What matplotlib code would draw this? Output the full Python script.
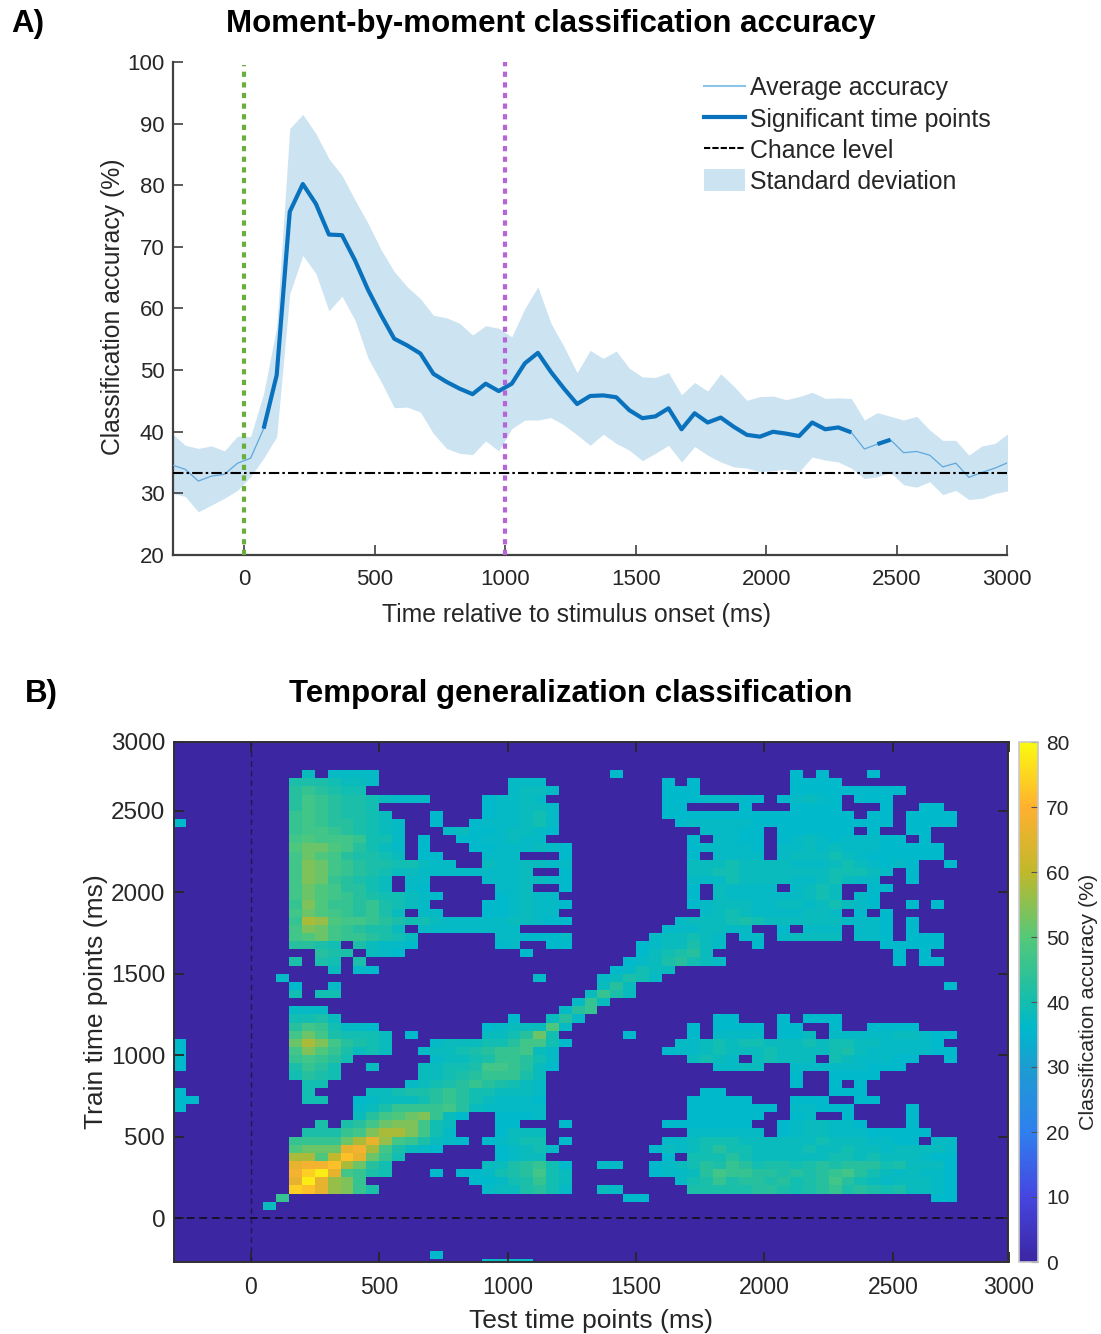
import numpy as np
import matplotlib
matplotlib.use("Agg")
import matplotlib.pyplot as plt
from matplotlib.colors import LinearSegmentedColormap
from matplotlib.lines import Line2D
from matplotlib.patches import Patch

plt.rcParams['font.family'] = ['Liberation Sans', 'DejaVu Sans']

W, H = 1101, 1334
DARK = '#262626'

# panel A, one value per 50 ms
times = np.arange(-275, 2926, 50)
acc_mean = [34.6, 33.9, 32.0, 32.8, 33.1, 34.9, 35.7, 40.5, 49.2, 75.7, 80.2, 77.0, 72.0, 71.9, 67.8, 63.0,
            58.9, 55.1, 54.0, 52.7, 49.4, 48.1, 47.0, 46.1, 47.8, 46.6, 47.8, 51.1, 52.8, 49.7, 47.0, 44.5,
            45.8, 45.9, 45.6, 43.5, 42.2, 42.5, 43.8, 40.4, 43.0, 41.5, 42.3, 40.8, 39.5, 39.2, 40.0, 39.7,
            39.3, 41.5, 40.4, 40.7, 39.9, 37.2, 38.0, 38.7, 36.6, 36.8, 36.2, 34.3, 34.9, 32.6, 33.4, 34.1, 35.0]
acc_upper = [39.7, 37.8, 37.3, 37.7, 36.9, 39.3, 39.2, 46.2, 57.0, 89.2, 91.5, 88.4, 84.3, 81.6, 77.6, 73.8,
             69.5, 66.0, 63.5, 61.6, 58.9, 58.5, 57.6, 55.7, 57.2, 56.8, 55.4, 60.0, 63.5, 57.6, 53.8, 49.6,
             53.2, 51.9, 53.1, 50.3, 48.9, 48.8, 49.6, 46.0, 48.0, 46.6, 49.4, 47.4, 45.1, 45.7, 45.8, 45.2,
             45.7, 46.4, 45.4, 45.5, 45.4, 41.9, 43.1, 42.5, 41.9, 42.5, 40.3, 38.6, 38.6, 36.2, 37.7, 38.1, 39.7]
acc_lower = [30.0, 29.5, 27.0, 28.1, 29.2, 30.5, 32.7, 35.7, 39.2, 62.4, 68.6, 65.7, 59.6, 62.0, 58.1, 51.9,
             48.1, 43.9, 44.0, 43.2, 39.7, 37.3, 36.5, 36.3, 38.5, 36.9, 40.5, 41.9, 41.9, 42.3, 41.1, 39.5,
             37.8, 39.6, 38.1, 37.0, 35.3, 36.5, 37.8, 35.1, 37.6, 36.2, 35.1, 34.3, 34.1, 33.5, 33.7, 33.9,
             33.5, 35.9, 35.4, 35.1, 34.1, 32.4, 32.7, 33.4, 31.4, 31.0, 31.9, 29.8, 30.5, 29.0, 29.2, 30.0, 30.4]
chance = 33.33
sig_spans = [(7, 53), (54, 56)]

# panel B, letters index level_values, {row from top: [(first column, cells), ...]}
level_codes = 'abcdefghijklmnopqrs'
level_values = [36, 37, 38, 39.5, 41, 43, 45, 47, 49, 52, 54, 56, 58, 60, 66, 68, 72, 74, 78]
heat_rows = {
    4: [(10, 'c'), (12, 'bbbb'), (34, 'a'), (48, 'a'), (50, 'a'), (54, 'a')],
    5: [(9, 'eeedccb'), (26, 'bbb'), (38, 'a'), (40, 'a'), (48, 'aaaa')],
    6: [(9, 'fgfedd'), (26, 'bccb'), (38, 'aaa'), (48, 'aaaaaaaaa')],
    7: [(9, 'fhgfeedcbbb'), (24, 'abbcb'), (38, 'aaabbbaa'), (47, 'abcba'), (53, 'aaa')],
    8: [(9, 'fhgfeed'), (24, 'abbccb'), (38, 'aa'), (44, 'a'), (48, 'aaaa'), (55, 'a'), (58, 'aa')],
    9: [(9, 'ghgfeedc'), (20, 'a'), (24, 'abbcdb'), (38, 'aaaaaaaaaaaaaaa'), (54, 'aa'), (57, 'aaaa')],
    10: [(0, 'a'), (9, 'ghgffedcb'), (20, 'a'), (23, 'abbbcdb'), (39, 'abbbbbaaaaaaaaaaa'), (57, 'aaaa')],
    11: [(9, 'ghhgfedcb'), (21, 'bcaabccba'), (41, 'bbbaa'), (47, 'aaaaaa'), (54, 'a'), (57, 'aa')],
    12: [(9, 'hihhhgddb'), (19, 'a'), (22, 'aabbcbb'), (40, 'a'), (42, 'bbaa'), (47, 'abcbabbbaa'), (58, 'a')],
    13: [(9, 'ijjihfdcb'), (19, 'a'), (23, 'aabbbcba'), (40, 'abbbba'), (47, 'bbcbcbbbaaaaa')],
    14: [(9, 'hjihfeedc'), (19, 'aa'), (24, 'bbb'), (30, 'a'), (40, 'a'), (42, 'bbbb'), (47, 'bcccdcbaaaaaa')],
    15: [(9, 'hkjhgfeeddcbb'), (24, 'cbbccbb'), (40, 'cccdccccbbbcdcbaba'), (60, 'a')],
    16: [(9, 'hkjhgfedccbbbbbbbbc'), (30, 'a'), (40, 'ccddcccccccdddcb'), (57, 'a')],
    17: [(9, 'hkjgfedc'), (18, 'bb'), (24, 'bbbccba'), (40, 'bbbdccccbbcdcbb'), (57, 'a')],
    18: [(9, 'hjihffdc'), (18, 'ba'), (25, 'bbc'), (30, 'a'), (40, 'a'), (42, 'cbbbb'), (48, 'bcdc'), (54, 'aa')],
    19: [(9, 'hjihgfeddcba'), (25, 'abcbb'), (40, 'a'), (42, 'cbbbbbbcdc'), (53, 'ba')],
    20: [(9, 'gkiggfgedcb'), (24, 'aabcbba'), (40, 'abcccbbccbcdcba'), (57, 'a'), (59, 'a')],
    21: [(9, 'hjihgfgec'), (19, 'bb'), (24, 'aabcbb'), (41, 'bcdcbbbbccb'), (53, 'a'), (55, 'a')],
    22: [(9, 'gmlihhgfeddcbbbbbccbaa'), (39, 'bcccdedccccccbbba'), (57, 'a')],
    23: [(9, 'hkjhgfeec'), (19, 'bbbbbbbb'), (38, 'abbccbb'), (47, 'a'), (49, 'bbb'), (53, 'bba'), (57, 'a')],
    24: [(9, 'hijhggfedc'), (25, 'bbaaab'), (37, 'bccdcb'), (44, 'bb'), (47, 'bcccc'), (53, 'bba'), (57, 'aaa')],
    25: [(9, 'ffed'), (14, 'ecbba'), (25, 'ab'), (29, 'aa'), (36, 'abccecb'), (45, 'a'), (55, 'aaaaa')],
    26: [(11, 'fee'), (15, 'cba'), (27, 'a'), (36, 'acdefc'), (56, 'a'), (58, 'a')],
    27: [(9, 'e'), (11, 'ed'), (14, 'e'), (35, 'abcefdcb'), (56, 'a'), (58, 'aa')],
    28: [(12, 'c'), (14, 'ba'), (34, 'abdcc')],
    29: [(8, 'b'), (28, 'b'), (33, 'bcedb')],
    30: [(9, 'a'), (12, 'b'), (33, 'cfc'), (60, 'a')],
    31: [(9, 'd'), (11, 'dd'), (32, 'cgec')],
    32: [(31, 'bgc')],
    33: [(9, 'bbb'), (30, 'bfg')],
    34: [(9, 'ddec'), (26, 'a'), (29, 'cfb'), (42, 'aa'), (47, 'a'), (49, 'aaa')],
    35: [(9, 'fhgdbba'), (24, 'abcccib'), (40, 'a'), (42, 'aaaa'), (47, 'aa'), (51, 'a'), (54, 'aaaa')],
    36: [(9, 'hjhedddc'), (18, 'a'), (24, 'ccdfjd'), (35, 'a'), (40, 'a'), (42, 'bbbb'), (47, 'aac'), (51, 'bbbbbccbaa')],
    37: [(0, 'a'), (9, 'jmkhfedc'), (20, 'bcccddfhhda'), (39, 'bbcdcddcccdcddccbbbba')],
    38: [(0, 'a'), (9, 'hkigecdc'), (19, 'bccdefgghcb'), (38, 'abbcdcccdccccdecbbbbbaa')],
    39: [(0, 'a'), (9, 'ghgfd'), (20, 'bccdeggfdb'), (40, 'cdcb'), (45, 'cdccc'), (51, 'dcbbbaa'), (60, 'a')],
    40: [(0, 'a'), (9, 'egfd'), (15, 'c'), (19, 'ccddehhgfca'), (42, 'bbcc'), (48, 'bbbbbbaaa')],
    41: [(9, 'dfed'), (19, 'ccdefgggec'), (48, 'a'), (51, 'aaaa')],
    42: [(10, 'dd'), (18, 'bcdefgfedcb'), (48, 'a'), (51, 'a'), (53, 'a')],
    43: [(0, 'a'), (10, 'd'), (15, 'ccdeefgfddcccb'), (41, 'aa'), (51, 'aaa')],
    44: [(0, 'aa'), (10, 'dd'), (14, 'abcccdfgfdcbbba'), (40, 'aaaaa'), (48, 'aaa'), (53, 'aa')],
    45: [(0, 'a'), (14, 'bcegggghfcbbbbb'), (40, 'aaaaaaa'), (48, 'bbaaa'), (57, 'a')],
    46: [(14, 'cfhijkgca'), (25, 'aaab'), (40, 'aaaaaa'), (48, 'ab'), (52, 'a'), (57, 'a')],
    47: [(11, 'e'), (13, 'efhjkkhdc'), (25, 'aa'), (30, 'a'), (38, 'aaaaaaa'), (47, 'abccbba'), (57, 'a')],
    48: [(10, 'eeeghkmmkhdb'), (25, 'accc'), (40, 'bbbbbb'), (47, 'abccbbbaaaaa')],
    49: [(9, 'ggggjmolhgecba'), (24, 'abcdd'), (30, 'a'), (38, 'bbcdddccccccdcccbbaa'), (59, 'bb')],
    50: [(9, 'ijjjopmhecba'), (25, 'abcdb'), (37, 'acbcdfddccccdccdccbccccb')],
    51: [(9, 'mminqojgd'), (25, 'abcc'), (38, 'a'), (40, 'dddfdccccccddcdcccbaa')],
    52: [(9, 'oppqmjfd'), (24, 'ccefgda'), (33, 'bb'), (37, 'abcdfegfdeedefefffdeccca')],
    53: [(9, 'prsohged'), (20, 'a'), (22, 'aabdefhdc'), (37, 'abbcfhggffefefghfdcbcbba')],
    54: [(9, 'osolkg'), (23, 'aabdegdc'), (39, 'bdegeffefdefhfdcbcccba')],
    55: [(9, 'rqolkge'), (24, 'bccefdb'), (33, 'cb'), (40, 'eeeeeffedefgefedeccba')],
    56: [(8, 'g'), (35, 'aa'), (59, 'aa')],
    57: [(7, 'c')],
    63: [(20, 'a')],
    64: [(24, 'bbbb')],
}

# colours
cbar_stops = [0, 10, 20, 30, 36, 40, 50, 60, 70, 80]
cbar_colors = ['#3C26A2', '#4546E0', '#2F80EE', '#1C9CD0', '#00B9CB', '#14BDAE',
               '#55C878', '#BFB82B', '#FFB030', '#FAFA10']

parula = LinearSegmentedColormap.from_list('parula_like', [(s / 80, c) for s, c in zip(cbar_stops, cbar_colors)])

heat = np.zeros((65, 65))
for row, runs in heat_rows.items():
    for start, cells in runs:
        for i, ch in enumerate(cells):
            heat[row, start + i] = level_values[level_codes.index(ch)]
x_edges = np.arange(-300, 2951, 50)
y_edges = np.arange(2950, -301, -50)

fig = plt.figure(figsize=(W / 100, H / 100), dpi=100)


def box(left, top, right, bottom):
    return [left / W, 1 - bottom / H, (right - left) / W, (bottom - top) / H]


# ----- A -----
ax = fig.add_axes(box(173, 62, 1007, 555))
ax.fill_between(times, acc_lower, acc_upper, color='#CCE3F2', lw=0, zorder=1)
ax.plot(times, acc_mean, color='#5FA8DC', lw=0.9, zorder=3)
for a, b in sig_spans:
    ax.plot(times[a:b], acc_mean[a:b], color='#0A72BD', lw=3, zorder=3, solid_capstyle='butt')
ax.axhline(chance, color='black', lw=1.5, ls=(0, (5, 1.5, 1.2, 1.5)), zorder=4)
ax.plot([0, 0], [20, 99.5], color='#6AAF3B', lw=3, ls=(0, (1.25, 1.3)), zorder=5)
ax.plot([1000, 1000], [20, 100], color='#B565D8', lw=3, ls=(0, (1.25, 1.3)), zorder=5)
ax.set_xlim(-272, 2921)
ax.set_ylim(20, 100)
ax.set_xticks([0, 500, 1000, 1500, 2000, 2500, 2921])
ax.set_xticklabels(['0', '500', '1000', '1500', '2000', '2500', '3000'])
ax.set_yticks(range(20, 101, 10))
ax.spines['top'].set_visible(False)
ax.spines['right'].set_visible(False)
for s in ['left', 'bottom']:
    ax.spines[s].set_linewidth(1.6)
    ax.spines[s].set_color('#404040')
ax.tick_params(direction='in', length=7, width=1.2, labelsize=16, color='#404040', labelcolor=DARK, pad=6)
ax.tick_params(axis='x', pad=10)
ax.set_xlabel('Time relative to stimulus onset (ms)', fontsize=17.8, color=DARK)
ax.xaxis.set_label_coords(0.484, -0.098)
ax.set_ylabel('Classification accuracy (%)', fontsize=17.8, color=DARK)
ax.yaxis.set_label_coords(-0.0575, 0.504)
handles = [Line2D([], [], color='#8CC3E8', lw=1.5), Line2D([], [], color='#0A72BD', lw=3),
           Line2D([], [], color='black', lw=1.5, ls=(0, (3, 1))), Patch(color='#CCE3F2', lw=0)]
ax.legend(handles, ['Average accuracy', 'Significant time points', 'Chance level', 'Standard deviation'],
          loc='upper left', bbox_to_anchor=(0.637, 0.972), frameon=False, fontsize=17.9, labelcolor=DARK,
          handlelength=1.65, handleheight=1.0, handletextpad=0.17, labelspacing=0.26, borderpad=0, borderaxespad=0)

# ----- B -----
ax2 = fig.add_axes(box(173.5, 741.5, 1008.5, 1262))
mesh = ax2.pcolormesh(x_edges, y_edges, heat, cmap=parula, vmin=0, vmax=80, shading='flat')
ax2.axvline(0, color='#1E1A50', lw=1, ls=(0, (4, 3)))
ax2.axhline(0, color='#15132E', lw=1.4, ls=(0, (4, 2.5)))
ax2.set_xlim(-300, 2950)
ax2.set_ylim(-270, 2926)
ax2.set_xticks([0, 500, 1000, 1500, 2000, 2500, 2950])
ax2.set_xticklabels(['0', '500', '1000', '1500', '2000', '2500', '3000'])
ax2.set_yticks([0, 500, 1000, 1500, 2000, 2500, 2926])
ax2.set_yticklabels(['0', '500', '1000', '1500', '2000', '2500', '3000'])
for s in ax2.spines.values():
    s.set_linewidth(1.4)
    s.set_color('#303030')
ax2.tick_params(direction='in', length=7, width=1.3, top=True, right=True,
                color='#262626', labelcolor=DARK)
ax2.tick_params(axis='x', labelsize=16.5, pad=10)
ax2.tick_params(axis='y', labelsize=17.5, pad=6)
ax2.set_xlabel('Test time points (ms)', fontsize=19, color=DARK)
ax2.xaxis.set_label_coords(0.5, -0.0905)
ax2.set_ylabel('Train time points (ms)', fontsize=19, color=DARK)
ax2.yaxis.set_label_coords(-0.078, 0.5)

cax = fig.add_axes(box(1019, 742, 1038, 1262))
cb = fig.colorbar(mesh, cax=cax)
cb.set_ticks(range(0, 81, 10))
cb.ax.tick_params(direction='in', length=5, width=0.8, labelsize=15, color='#505050', labelcolor=DARK, pad=6)
cb.outline.set_edgecolor('#C8C8C8')
cb.outline.set_linewidth(1.2)
cb.set_label('Classification accuracy (%)', fontsize=15.4, color=DARK, labelpad=7)

# titles and panel letters
fig.text(551 / W, 1 - 24 / H, 'Moment-by-moment classification accuracy', fontsize=22.5, fontweight='bold',
         ha='center', va='center')
fig.text(571 / W, 1 - 694 / H, 'Temporal generalization classification', fontsize=22.5, fontweight='bold',
         ha='center', va='center')
fig.text(11 / W, 1 - 24 / H, 'A)', fontsize=22.5, fontweight='bold', ha='left', va='center')
fig.text(25 / W, 1 - 694 / H, 'B)', fontsize=22.5, fontweight='bold', ha='left', va='center')

fig.savefig('out.png', dpi=100)
